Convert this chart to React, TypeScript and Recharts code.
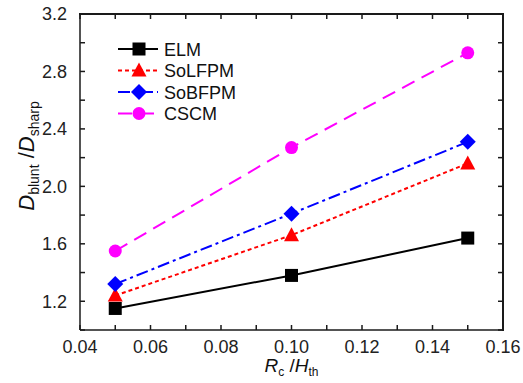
import React from "react";
import { LineChart, Line, XAxis, YAxis, Legend, Label } from "recharts";

// x positions (Rc/Hth) and the four model series (Dblunt/Dsharp)
const RATIOS = [0.05, 0.1, 0.15];
const ELM = [1.15, 1.38, 1.64];
const SOLFPM = [1.24, 1.66, 2.16];
const SOBFPM = [1.32, 1.81, 2.31];
const CSCM = [1.55, 2.27, 2.93];

const X_MAJOR = [0.04, 0.06, 0.08, 0.1, 0.12, 0.14, 0.16];
const X_MINOR = [0.05, 0.07, 0.09, 0.11, 0.13, 0.15];
const Y_MAJOR = [1.2, 1.6, 2.0, 2.4, 2.8, 3.2];
const Y_MINOR = [1.0, 1.4, 1.8, 2.2, 2.6, 3.0];

const X_TICKS = [...X_MAJOR, ...X_MINOR].sort((a, b) => a - b);
const Y_TICKS = [...Y_MAJOR, ...Y_MINOR].sort((a, b) => a - b);

const FONT = "'Liberation Sans', Arial, sans-serif";
const AXIS_COLOR = "#1a1a1a";
const TICK_LEN = 5;

const W = 523;
const H = 383;
const MARGIN = { top: 14, right: 20, bottom: 0, left: 0 };
const Y_AXIS_W = 80;
const X_AXIS_H = 53;
const X_DOMAIN: [number, number] = [0.04, 0.16];
const Y_DOMAIN: [number, number] = [1.0, 3.2];

const SERIES = [
  { key: "ELM", values: ELM, color: "#000000", dash: undefined, shape: "square" },
  { key: "SoLFPM", values: SOLFPM, color: "#ff0000", dash: "4 3", shape: "triangle" },
  { key: "SoBFPM", values: SOBFPM, color: "#0000ff", dash: "12 4 3 4", shape: "diamond" },
  { key: "CSCM", values: CSCM, color: "#ff00ff", dash: "14 8", shape: "circle" },
];

const data = RATIOS.map((r, i) => {
  const row: any = { x: r };
  SERIES.forEach((s) => (row[s.key] = s.values[i]));
  return row;
});

const isIn = (list: number[], v: number) => list.some((m) => Math.abs(m - v) < 1e-9);

function marker(shape: string, color: string, cx: number, cy: number, key?: any) {
  if (shape === "square")
    return <rect key={key} x={cx - 6.5} y={cy - 6.5} width={13} height={13} fill={color} />;
  if (shape === "triangle")
    return (
      <polygon key={key} points={`${cx},${cy - 8} ${cx - 7.5},${cy + 6} ${cx + 7.5},${cy + 6}`} fill={color} />
    );
  if (shape === "diamond")
    return (
      <polygon key={key} points={`${cx},${cy - 8} ${cx + 8},${cy} ${cx},${cy + 8} ${cx - 8},${cy}`} fill={color} />
    );
  return <circle key={key} cx={cx} cy={cy} r={6.5} fill={color} />;
}

function LegendBox() {
  return (
    <svg width={170} height={90} style={{ display: "block" }}>
      {SERIES.map((s, i) => {
        const y = 11 + i * 21.5;
        return (
          <g key={s.key}>
            <line x1={0} x2={40} y1={y} y2={y} stroke={s.color} strokeWidth={2} strokeDasharray={s.dash} />
            {marker(s.shape, s.color, 21, y)}
            <text x={46} y={y + 6.5} fontSize={18} fontFamily={FONT} fill="#111">
              {s.key}
            </text>
          </g>
        );
      })}
    </svg>
  );
}

function YTitle(props: any) {
  const { x, y, height } = props.viewBox;
  const cx = x + 27;
  const cy = y + height / 2 - 16;
  return (
    <text
      transform={`translate(${cx},${cy}) rotate(-90)`}
      textAnchor="middle"
      fontFamily={FONT}
      fontSize={22}
      fill="#111"
      dy={7}
    >
      <tspan fontStyle="italic">D</tspan>
      <tspan fontSize={14} dy={5}>blunt</tspan>
      <tspan dy={-5}> /</tspan>
      <tspan fontStyle="italic">D</tspan>
      <tspan fontSize={14} dy={5}>sharp</tspan>
    </text>
  );
}

function XTitle(props: any) {
  const { x, y, width } = props.viewBox;
  return (
    <text x={x + width / 2} y={y + 42} textAnchor="middle" fontFamily={FONT} fontSize={19} fill="#111">
      <tspan fontStyle="italic">R</tspan>
      <tspan fontSize={12} dy={4}>c</tspan>
      <tspan dy={-4}> /</tspan>
      <tspan fontStyle="italic">H</tspan>
      <tspan fontSize={12} dy={4}>th</tspan>
    </text>
  );
}

const PLOT_LEFT = MARGIN.left + Y_AXIS_W;
const PLOT_TOP = MARGIN.top;
const PLOT_RIGHT = W - MARGIN.right;
const PLOT_BOTTOM = H - MARGIN.bottom - X_AXIS_H;

// top and right frame of the plot box, with inward ticks matching the axis ticks
function Frame() {
  const px = (v: number) =>
    PLOT_LEFT + ((v - X_DOMAIN[0]) / (X_DOMAIN[1] - X_DOMAIN[0])) * (PLOT_RIGHT - PLOT_LEFT);
  const py = (v: number) =>
    PLOT_BOTTOM - ((v - Y_DOMAIN[0]) / (Y_DOMAIN[1] - Y_DOMAIN[0])) * (PLOT_BOTTOM - PLOT_TOP);
  return (
    <>
      <div
        style={{
          position: "absolute",
          left: PLOT_LEFT - 1,
          top: PLOT_TOP - 1,
          width: PLOT_RIGHT - PLOT_LEFT,
          height: PLOT_BOTTOM - PLOT_TOP,
          borderTop: `2px solid ${AXIS_COLOR}`,
          borderRight: `2px solid ${AXIS_COLOR}`,
          pointerEvents: "none",
          zIndex: 5,
        }}
      />
      <svg
        width={W}
        height={H}
        style={{ position: "absolute", left: 0, top: 0, pointerEvents: "none", zIndex: 6 }}
      >
        <g stroke={AXIS_COLOR} strokeWidth={1.5}>
          {X_TICKS.map((v) => (
            <line key={"t" + v} x1={px(v)} x2={px(v)} y1={PLOT_TOP} y2={PLOT_TOP + TICK_LEN} />
          ))}
          {Y_TICKS.map((v) => (
            <line key={"r" + v} x1={PLOT_RIGHT - TICK_LEN} x2={PLOT_RIGHT} y1={py(v)} y2={py(v)} />
          ))}
        </g>
      </svg>
    </>
  );
}

const tickStyle = { fill: "#222", fontSize: 18, fontFamily: FONT };
const lineStyle = { stroke: AXIS_COLOR, strokeWidth: 1.5 };

export default function App() {
  return (
    <div style={{ position: "absolute", left: 0, top: 0, width: W, height: H, background: "#fff" }}>
      <LineChart width={W} height={H} data={data} margin={MARGIN}>
        <XAxis
          xAxisId="b"
          dataKey="x"
          type="number"
          domain={X_DOMAIN}
          allowDataOverflow
          ticks={X_TICKS}
          tickFormatter={(v: number) => (isIn(X_MAJOR, v) ? v.toFixed(2) : "")}
          tick={tickStyle}
          tickLine={lineStyle}
          tickSize={-TICK_LEN}
          tickMargin={15}
          height={X_AXIS_H}
          axisLine={lineStyle}
          interval={0}
        >
          <Label content={XTitle} />
        </XAxis>
        <YAxis
          yAxisId="l"
          type="number"
          domain={Y_DOMAIN}
          allowDataOverflow
          ticks={Y_TICKS}
          tickFormatter={(v: number) => (isIn(Y_MAJOR, v) ? v.toFixed(1) : "")}
          tick={tickStyle}
          tickLine={lineStyle}
          tickSize={-TICK_LEN}
          tickMargin={18}
          width={Y_AXIS_W}
          axisLine={lineStyle}
          interval={0}
        >
          <Label content={YTitle} />
        </YAxis>

        <Legend
          layout="vertical"
          align="center"
          verticalAlign="middle"
          content={() => <LegendBox />}
          wrapperStyle={{ left: 118, top: 38, width: 170, height: 90 }}
        />

        {SERIES.map((s) => (
          <Line
            key={s.key}
            xAxisId="b"
            yAxisId="l"
            dataKey={s.key}
            stroke={s.color}
            strokeWidth={2}
            strokeDasharray={s.dash}
            isAnimationActive={false}
            dot={(p: any) => marker(s.shape, s.color, p.cx, p.cy, p.index)}
            activeDot={false}
          />
        ))}
      </LineChart>
      <Frame />
    </div>
  );
}
